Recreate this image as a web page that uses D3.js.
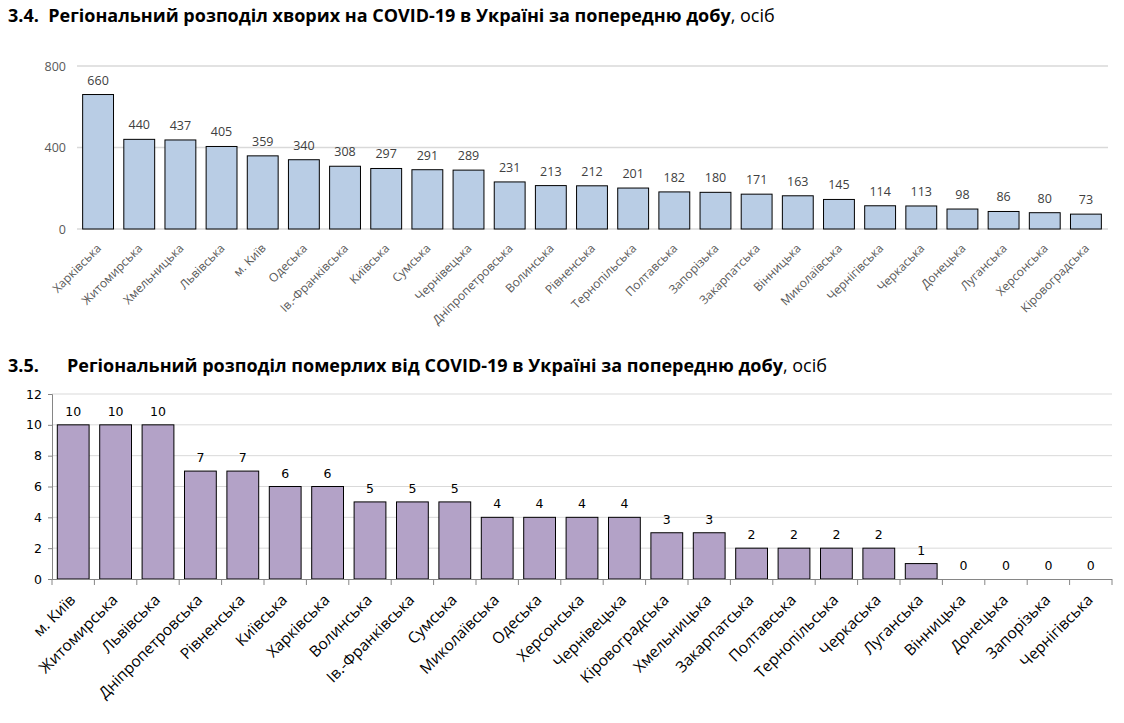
<!DOCTYPE html>
<html><head><meta charset="utf-8">
<script src="https://cdn.jsdelivr.net/npm/d3@7"></script>
<style>body{margin:0;background:#fff}svg{display:block}</style>
</head><body>
<svg id="c" width="1124" height="723"></svg>
<script>
const casesRegions = ["Харківська","Житомирська","Хмельницька","Львівська","м. Київ","Одеська","Ів.-Франківська","Київська","Сумська","Чернівецька","Дніпропетровська","Волинська","Рівненська","Тернопільська","Полтавська","Запорізька","Закарпатська","Вінницька","Миколаївська","Чернігівська","Черкаська","Донецька","Луганська","Херсонська","Кіровоградська"];
const casesValues = [660,440,437,405,359,340,308,297,291,289,231,213,212,201,182,180,171,163,145,114,113,98,86,80,73];
const casesTicks = [0,400,800];

const deathsRegions = ["м. Київ","Житомирська","Львівська","Дніпропетровська","Рівненська","Київська","Харківська","Волинська","Ів.-Франківська","Сумська","Миколаївська","Одеська","Херсонська","Чернівецька","Кіровоградська","Хмельницька","Закарпатська","Полтавська","Тернопільська","Черкаська","Луганська","Вінницька","Донецька","Запорізька","Чернігівська"];
const deathsValues = [10,10,10,7,7,6,6,5,5,5,4,4,4,4,3,3,2,2,2,2,1,0,0,0,0];
const deathsTicks = [0,2,4,6,8,10,12];

const title1Bold = "3.4.  Регіональний розподіл хворих на COVID-19 в Україні за попередню добу";
const title2Num = "3.5.";
const title2Bold = "Регіональний розподіл померлих від COVID-19 в Україні за попередню добу";
const titleTail = ", осіб";

const svg = d3.select("#c");
const TF = "'Liberation Sans Narrow','Open Sans',sans-serif";
const F = "'Open Sans','Noto Sans',sans-serif";
const V = "'DejaVu Sans',sans-serif";

// Titles
const t1 = svg.append("text").attr("x",8).attr("y",22).style("font-family",TF).style("font-size","18px").attr("fill","#000");
t1.append("tspan").style("font-weight","bold").text(title1Bold.replace("  ","\u00a0\u00a0"));
t1.append("tspan").text(titleTail);
const t2 = svg.append("text").attr("x",8).attr("y",372).style("font-family",TF).style("font-size","18px").attr("fill","#000");
t2.append("tspan").style("font-weight","bold").text(title2Num);
t2.append("tspan").attr("x",67).style("font-weight","bold").text(title2Bold);
t2.append("tspan").text(titleTail);

// Chart 1
{
  const x = d3.scaleBand().domain(casesRegions).range([77.5,1106.5]).paddingInner(0.25).paddingOuter(0.125);
  const y = d3.scaleLinear().domain([0,800]).range([229,66]);
  const g = svg.append("g");
  g.selectAll("line.grid").data(casesTicks).join("line")
    .attr("x1",77).attr("x2",1108).attr("y1",d=>y(d)).attr("y2",d=>y(d))
    .attr("stroke","#d9d9d9").attr("stroke-width",1.3);
  const ya = g.append("g").attr("transform","translate(68,0)")
    .call(d3.axisLeft(y).tickValues(casesTicks).tickSize(0).tickPadding(2));
  ya.select(".domain").remove();
  ya.selectAll("text").style("font-family",F).style("font-size","12.5px").attr("fill","#595959");
  g.selectAll("rect").data(casesValues).join("rect")
    .attr("x",(d,i)=>x(casesRegions[i])).attr("width",x.bandwidth())
    .attr("y",d=>y(d)).attr("height",d=>y(0)-y(d))
    .attr("fill","#b9cde5").attr("stroke","#000").attr("stroke-width",1);
  g.selectAll("text.v").data(casesValues).join("text").attr("class","v")
    .attr("x",(d,i)=>x(casesRegions[i])+x.bandwidth()/2).attr("y",d=>y(d)-10)
    .attr("text-anchor","middle").style("font-family",F).style("font-size","12.5px").attr("fill","#404040").text(d=>d);
  const xa = g.append("g").attr("transform","translate(0,229)")
    .call(d3.axisBottom(x).tickSize(0).tickPadding(0));
  xa.select(".domain").remove();
  xa.selectAll("text").attr("text-anchor","end").attr("dy",0).attr("dx",0)
    .attr("transform","translate(4,20) rotate(-45)")
    .style("font-family",F).style("font-size","12px").attr("fill","#595959");
}

// Chart 2
{
  const x = d3.scaleBand().domain(deathsRegions).range([52,1112]).paddingInner(0.25).paddingOuter(0.125);
  const y = d3.scaleLinear().domain([0,12]).range([579,394]);
  const g = svg.append("g");
  g.selectAll("line.grid").data(deathsTicks.slice(1)).join("line")
    .attr("x1",52).attr("x2",1112).attr("y1",d=>y(d)).attr("y2",d=>y(d))
    .attr("stroke","#d9d9d9").attr("stroke-width",1);
  g.selectAll("rect").data(deathsValues).join("rect")
    .attr("x",(d,i)=>x(deathsRegions[i])).attr("width",x.bandwidth())
    .attr("y",d=>y(d)).attr("height",d=>y(0)-y(d))
    .attr("fill","#b3a2c7").attr("stroke","#000").attr("stroke-width",1);
  const ya = g.append("g").attr("transform","translate(52,0)")
    .call(d3.axisLeft(y).tickValues(deathsTicks).tickSize(4).tickPadding(6));
  ya.selectAll("path,line").attr("stroke","#868686");
  ya.selectAll("text").style("font-family",V).style("font-size","12.5px").attr("fill","#000");
  g.selectAll("text.v").data(deathsValues).join("text").attr("class","v")
    .attr("x",(d,i)=>x(deathsRegions[i])+x.bandwidth()/2).attr("y",d=>y(d)-9)
    .attr("text-anchor","middle").style("font-family",V).style("font-size","12.5px").attr("fill","#000").text(d=>d);
  g.append("line").attr("x1",52).attr("x2",1112).attr("y1",579.5).attr("y2",579.5).attr("stroke","#868686");
  g.selectAll("line.sep").data(d3.range(deathsRegions.length+1)).join("line").attr("class","sep")
    .attr("x1",i=>52+i*x.step()).attr("x2",i=>52+i*x.step()).attr("y1",579).attr("y2",585).attr("stroke","#868686");
  const xa = g.append("g").attr("transform","translate(0,579)")
    .call(d3.axisBottom(x).tickSize(0).tickPadding(0));
  xa.select(".domain").remove();
  xa.selectAll("text").attr("text-anchor","end").attr("dy",0).attr("dx",0)
    .attr("transform","translate(3,22) rotate(-45)")
    .style("font-family",F).style("font-size","15.5px").attr("fill","#000");
}
</script>
</body></html>
